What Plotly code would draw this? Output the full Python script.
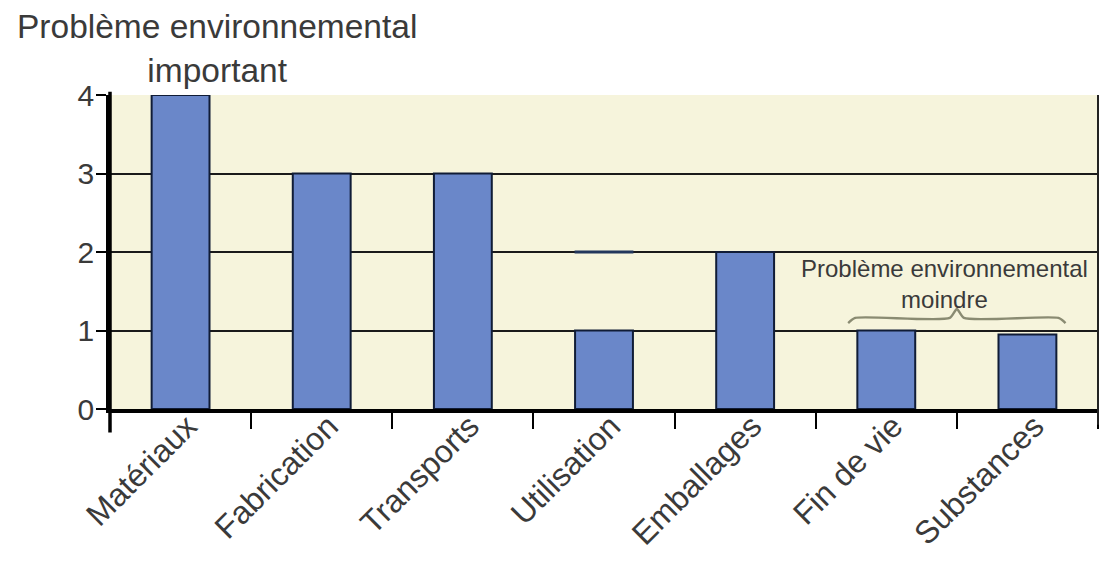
import plotly.graph_objects as go

# Stages of the product life cycle and their environmental-impact score
categories = ["Matériaux", "Fabrication", "Transports", "Utilisation",
              "Emballages", "Fin de vie", "Substances"]
scores = [4, 3, 3, 1, 2, 1, 0.95]

# Secondary level marked on the "Utilisation" stage
secondary_cat = ["Utilisation"]
secondary_val = [2]

y_ticks = [0, 1, 2, 3, 4]

title_text = "Problème environnemental<br>important"
note_text = "Problème environnemental<br>moindre"

FONT = "Liberation Sans, Arial, sans-serif"
TEXT_COLOR = "#3a3a3a"
BAR_FILL = "#6a87c9"
BAR_EDGE = "#101c36"
PLOT_BG = "#f6f4dc"

fig = go.Figure()

fig.add_trace(go.Bar(
    x=categories, y=scores,
    width=0.41,
    marker=dict(color=BAR_FILL, line=dict(color=BAR_EDGE, width=2)),
    hoverinfo="x+y",
    showlegend=False,
))

# short dark bar-top segment at the secondary level
fig.add_trace(go.Scatter(
    x=secondary_cat, y=secondary_val, mode="markers",
    marker=dict(symbol="line-ew", size=42, color="#22365c",
                line=dict(color="#22365c", width=3)),
    showlegend=False, hoverinfo="skip",
))

# curly brace grouping the two last stages (drawn on a numeric overlay axis)
i0 = categories.index("Fin de vie")
i1 = categories.index("Substances")
left, right = i0 - 0.27, i1 + 0.27
mid = i0 + 0.5
base = 1.16
brace_x = [left, left + 0.05, mid - 0.05, mid, mid + 0.05, right - 0.05, right]
brace_y = [base - 0.065, base, base, base + 0.115, base, base, base - 0.065]
fig.add_trace(go.Scatter(
    x=brace_x, y=brace_y, xaxis="x2", mode="lines",
    line=dict(color="#8a8b72", width=2.4, shape="spline", smoothing=0.6),
    showlegend=False, hoverinfo="skip",
))

fig.update_layout(
    width=1102, height=564,
    margin=dict(l=110, r=4, t=95, b=155, autoexpand=False),
    paper_bgcolor="white",
    plot_bgcolor=PLOT_BG,
    font=dict(family=FONT, color=TEXT_COLOR),
    xaxis=dict(
        type="category", range=[-0.5, 6.5],
        showline=True, linecolor="black", linewidth=3.5,
        ticks="outside", tickson="boundaries", ticklen=16, tickwidth=2,
        tickcolor="black", tickangle=-45,
        ticklabelstandoff=-18, ticklabelshift=7,
        tickfont=dict(size=32, family=FONT, color=TEXT_COLOR),
        showgrid=False, automargin=False,
    ),
    xaxis2=dict(overlaying="x", range=[-0.5, 6.5], visible=False),
    yaxis=dict(
        range=[0, 4], tickvals=y_ticks,
        showline=True, linecolor="black", linewidth=3.5,
        ticks="outside", ticklen=10, tickwidth=2, tickcolor="black",
        ticklabelstandoff=-4,
        tickfont=dict(size=30, family=FONT, color=TEXT_COLOR),
        showgrid=True, gridcolor="#1a1a1a", gridwidth=1.6,
        zeroline=False, automargin=False,
    ),
    bargap=0.59,
    shapes=[
        # extension of the left axis below the baseline
        dict(type="line", xref="paper", yref="paper", x0=0, x1=0,
             y0=-0.075, y1=1.01, line=dict(color="black", width=3.5)),
        # thin right border of the plotting area
        dict(type="line", xref="paper", yref="paper", x0=1, x1=1,
             y0=-0.05, y1=1, line=dict(color="#222222", width=2)),
    ],
    annotations=[
        dict(text=title_text, xref="paper", yref="paper",
             x=0.108, y=1.148, xanchor="center", yanchor="middle",
             showarrow=False, align="center",
             font=dict(size=33.5, family=FONT, color=TEXT_COLOR)),
        dict(text=note_text, xref="paper", yref="paper",
             x=0.845, y=0.398, xanchor="center", yanchor="middle",
             showarrow=False, align="center",
             font=dict(size=24, family=FONT, color=TEXT_COLOR)),
    ],
)

fig.write_html("out.html")
